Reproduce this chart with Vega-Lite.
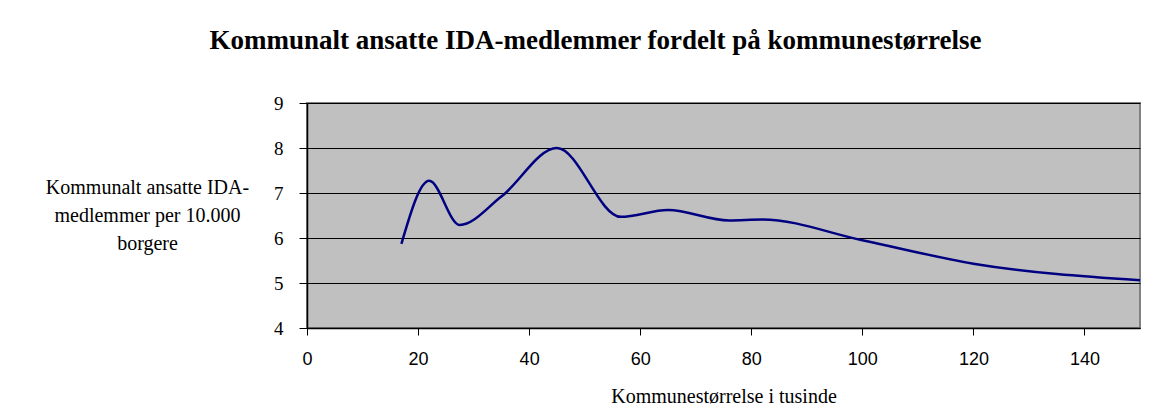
{
  "$schema": "https://vega.github.io/schema/vega-lite/v6.json",
  "width": 833,
  "height": 225,
  "autosize": {"type": "none"},
  "padding": {"left": 307, "top": 103, "right": 27, "bottom": 84},
  "background": "white",
  "title": {
    "text": "Kommunalt ansatte IDA-medlemmer fordelt på kommunestørrelse",
    "font": "Liberation Serif",
    "fontSize": 27,
    "fontWeight": "bold",
    "color": "black",
    "anchor": "middle",
    "dx": -128,
    "dy": 10,
    "offset": 49
  },
  "data": {
    "values": [
      {"size": 17, "rate": 5.87},
      {"size": 22, "rate": 7.27},
      {"size": 27.5, "rate": 6.29},
      {"size": 35, "rate": 6.92},
      {"size": 45, "rate": 8.0},
      {"size": 56.5, "rate": 6.47},
      {"size": 65, "rate": 6.62},
      {"size": 76, "rate": 6.39},
      {"size": 82, "rate": 6.41},
      {"size": 100, "rate": 5.95},
      {"size": 120, "rate": 5.43},
      {"size": 150, "rate": 5.06}
    ]
  },
  "mark": {"type": "line", "interpolate": "monotone", "color": "#000080", "strokeWidth": 2.5},
  "encoding": {
    "x": {
      "field": "size",
      "type": "quantitative",
      "scale": {"domain": [0, 150], "nice": false, "zero": false},
      "axis": {
        "values": [0, 20, 40, 60, 80, 100, 120, 140],
        "grid": false,
        "domainColor": "black",
        "domainWidth": 1.5,
        "tickColor": "black",
        "tickSize": 7,
        "labelFont": "Liberation Sans",
        "labelFontSize": 18,
        "labelColor": "black",
        "labelPadding": 15,
        "labelFlush": false,
        "title": "Kommunestørrelse i tusinde",
        "titleFont": "Liberation Serif",
        "titleFontSize": 20,
        "titleFontWeight": "normal",
        "titleColor": "black",
        "titlePadding": 18
      }
    },
    "y": {
      "field": "rate",
      "type": "quantitative",
      "scale": {"domain": [4, 9], "nice": false, "zero": false},
      "axis": {
        "values": [4, 5, 6, 7, 8, 9],
        "grid": true,
        "gridColor": "black",
        "gridWidth": 1,
        "gridOpacity": 1,
        "domainColor": "black",
        "domainWidth": 1.5,
        "tickColor": "black",
        "tickSize": 8,
        "labelFont": "Liberation Serif",
        "labelFontSize": 19,
        "labelColor": "black",
        "labelPadding": 16,
        "title": ["Kommunalt ansatte IDA-", "medlemmer per 10.000", "borgere"],
        "titleFont": "Liberation Serif",
        "titleFontSize": 20,
        "titleFontWeight": "normal",
        "titleColor": "black",
        "titleAngle": 0,
        "titleAlign": "center",
        "titleBaseline": "middle",
        "titleLineHeight": 28,
        "titleX": -160,
        "titleY": 84
      }
    }
  },
  "config": {
    "view": {"fill": "#C0C0C0", "stroke": "#808080", "strokeWidth": 2}
  }
}
